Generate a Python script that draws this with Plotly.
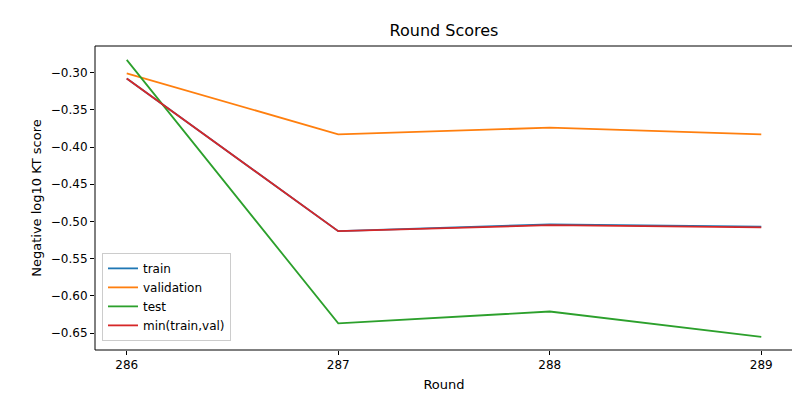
import plotly.graph_objects as go

rounds = [286, 287, 288, 289]
train = [-0.308, -0.513, -0.504, -0.507]
validation = [-0.301, -0.383, -0.374, -0.383]
test = [-0.283, -0.637, -0.621, -0.655]
min_train_val = [-0.308, -0.513, -0.505, -0.508]

series = [
    ("train", train, "#1f77b4"),
    ("validation", validation, "#ff7f0e"),
    ("test", test, "#2ca02c"),
    ("min(train,val)", min_train_val, "#d62728"),
]

fig = go.Figure()
for name, vals, color in series:
    fig.add_trace(go.Scatter(x=rounds, y=vals, mode="lines", name=name,
                             line=dict(color=color, width=1.8)))

axis_style = dict(showgrid=False, zeroline=False, showline=False, automargin=False,
                  ticks="outside", ticklen=4,
                  tickcolor="black", tickfont=dict(size=12, color="black"))

# axes frame
fig.add_shape(type="rect", xref="paper", yref="paper", x0=0, y0=0, x1=1, y1=1,
              line=dict(color="black", width=1))

fig.update_layout(
    width=800, height=400,
    margin=dict(l=87, r=15, t=38, b=58, autoexpand=False),
    plot_bgcolor="white", paper_bgcolor="white",
    font=dict(family="DejaVu Sans", color="black"),
    title=dict(text="Round Scores", x=0.545, xanchor="center", y=0.945,
               yanchor="middle", font=dict(size=16)),
    xaxis=dict(axis_style, range=[285.85, 289.15], tickvals=rounds,
               title=dict(text="Round", font=dict(size=13), standoff=8)),
    yaxis=dict(axis_style, range=[-0.6727, -0.2643], dtick=0.05, tickformat=".2f",
               title=dict(text="Negative log10 KT score", font=dict(size=13), standoff=6)),
    legend=dict(x=0.01, y=0.03, xanchor="left", yanchor="bottom",
                bordercolor="#cccccc", borderwidth=1, bgcolor="white",
                font=dict(size=12), tracegroupgap=0),
)

fig.write_html("out.html")
